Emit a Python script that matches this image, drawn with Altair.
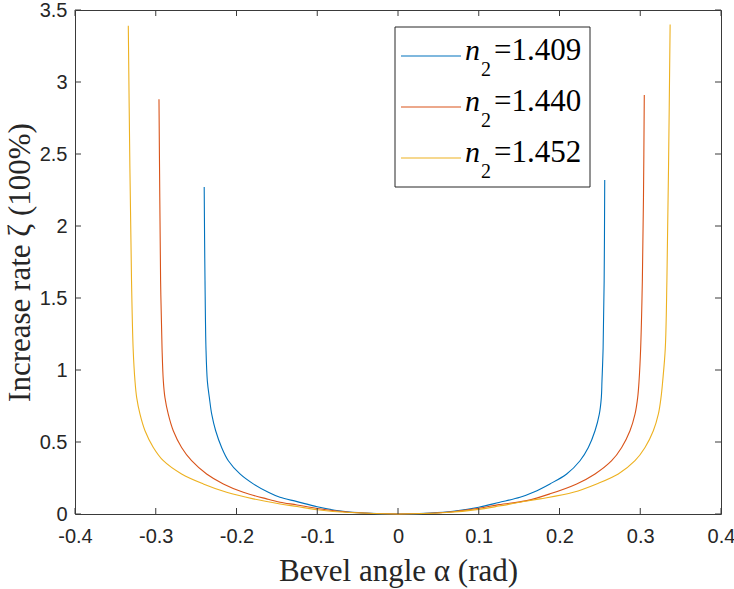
import altair as alt
import pandas as pd

# Refractive index of each curve, its legend text and colour
n2_values = ["1.409", "1.440", "1.452"]
series_colors = ["#0072BD", "#D95319", "#EDB120"]

# Bevel angle alpha (rad) and increase rate zeta for each n2
alpha_1409 = [-0.2400, -0.2395, -0.2390, -0.2378, -0.2361, -0.2336, -0.2307, -0.2258,
              -0.2184, -0.2101, -0.1957, -0.1792, -0.1606, -0.1462, -0.125, -0.100,
              -0.068, -0.040, 0.000, 0.040, 0.068, 0.100, 0.125, 0.1511, 0.1676,
              0.1882, 0.2089, 0.2254, 0.2357, 0.2440, 0.2493, 0.2518, 0.2526, 0.2540,
              0.2553, 0.2560]
zeta_1409 = [2.27, 1.90, 1.62, 1.15, 0.923, 0.808, 0.693, 0.578,
             0.462, 0.370, 0.278, 0.209, 0.151, 0.116, 0.086, 0.050,
             0.018, 0.006, 0.0, 0.006, 0.018, 0.047, 0.080, 0.116, 0.151,
             0.209, 0.278, 0.370, 0.462, 0.578, 0.693, 0.808, 0.923, 1.15,
             1.62, 2.32]

alpha_1440 = [-0.2960, -0.2950, -0.2940, -0.2922, -0.2906, -0.2886, -0.2845, -0.2783,
              -0.2680, -0.2556, -0.2370, -0.2163, -0.1916, -0.1627, -0.1460, -0.125,
              -0.100, -0.060, 0.000, 0.060, 0.100, 0.125, 0.1594, 0.1882, 0.2213,
              0.2440, 0.2646, 0.2770, 0.2873, 0.2935, 0.2968, 0.2985, 0.3005, 0.3026,
              0.3040, 0.3050]
zeta_1440 = [2.88, 2.20, 1.62, 1.15, 0.923, 0.808, 0.693, 0.578,
             0.462, 0.370, 0.278, 0.209, 0.151, 0.105, 0.082, 0.063,
             0.038, 0.012, 0.0, 0.012, 0.040, 0.065, 0.093, 0.140, 0.209,
             0.278, 0.370, 0.462, 0.578, 0.693, 0.808, 0.923, 1.15, 1.62,
             2.20, 2.91]

alpha_1452 = [-0.3340, -0.3320, -0.3300, -0.3280, -0.3257, -0.3236, -0.3195, -0.3133,
              -0.3030, -0.2906, -0.2680, -0.2411, -0.2122, -0.1792, -0.1460, -0.125,
              -0.100, -0.060, 0.000, 0.060, 0.100, 0.125, 0.1511, 0.1759, 0.2171,
              0.2460, 0.2728, 0.2935, 0.3059, 0.3162, 0.3224, 0.3257, 0.3278, 0.3310,
              0.3330, 0.3350, 0.3370]
zeta_1452 = [3.39, 2.40, 1.62, 1.15, 0.923, 0.808, 0.693, 0.578,
             0.462, 0.370, 0.278, 0.209, 0.151, 0.105, 0.070, 0.052,
             0.030, 0.010, 0.0, 0.010, 0.032, 0.055, 0.082, 0.105, 0.151,
             0.209, 0.278, 0.370, 0.462, 0.578, 0.693, 0.808, 0.923, 1.15,
             1.62, 2.40, 3.40]

x_ticks = [-0.4, -0.3, -0.2, -0.1, 0.0, 0.1, 0.2, 0.3, 0.4]
y_ticks = [0.0, 0.5, 1.0, 1.5, 2.0, 2.5, 3.0, 3.5]

W, H = 646, 504
TOP = 10
AXIS_COLOR = "#262626"
FRAME_COLOR = "#3a3a3a"
SERIF = "Liberation Serif"

frames = []
for n2, xs, ys in zip(n2_values,
                      [alpha_1409, alpha_1440, alpha_1452],
                      [zeta_1409, zeta_1440, zeta_1452]):
    frames.append(pd.DataFrame({"alpha": xs, "zeta": ys, "n2": n2}))
curves = pd.concat(frames, ignore_index=True)

x_scale = alt.Scale(domain=[-0.4, 0.4], nice=False, zero=False)
y_scale = alt.Scale(domain=[0, 3.5], nice=False)

axis_common = dict(
    labelExpr="'' + round(datum.value * 10) / 10",
    ticks=False, tickSize=0, domain=False, grid=False,
    labelFont="Liberation Sans", labelFontSize=20, labelColor=AXIS_COLOR,
    labelOverlap=False, labelFlush=False,
    titleFont=SERIF, titleFontSize=31, titleFontWeight="normal",
    titleColor=AXIS_COLOR,
)
x_axis = alt.Axis(values=x_ticks, title="Bevel angle α (rad)",
                  labelPadding=12, titlePadding=10, **axis_common)
y_axis = alt.Axis(values=y_ticks, title="Increase rate ζ (100%)",
                  labelPadding=8, titlePadding=3, **axis_common)

lines = alt.Chart(curves).mark_line(strokeWidth=1.1, interpolate="catmull-rom").encode(
    x=alt.X("alpha:Q", scale=x_scale, axis=x_axis),
    y=alt.Y("zeta:Q", scale=y_scale, axis=y_axis),
    color=alt.Color("n2:N", scale=alt.Scale(domain=n2_values, range=series_colors),
                    legend=None),
    detail="n2:N",
)

# Inward tick marks on all four sides of the box
xt = pd.DataFrame({"t": x_ticks})
yt = pd.DataFrame({"t": y_ticks})
TL = 6
tick_layers = [
    alt.Chart(xt).mark_rule(color=FRAME_COLOR, strokeWidth=1).encode(
        x=alt.X("t:Q", scale=x_scale, axis=x_axis), y=alt.value(H), y2=alt.value(H - TL)),
    alt.Chart(xt).mark_rule(color=FRAME_COLOR, strokeWidth=1).encode(
        x=alt.X("t:Q", scale=x_scale, axis=x_axis), y=alt.value(0), y2=alt.value(TL)),
    alt.Chart(yt).mark_rule(color=FRAME_COLOR, strokeWidth=1).encode(
        y=alt.Y("t:Q", scale=y_scale, axis=y_axis), x=alt.value(0), x2=alt.value(TL)),
    alt.Chart(yt).mark_rule(color=FRAME_COLOR, strokeWidth=1).encode(
        y=alt.Y("t:Q", scale=y_scale, axis=y_axis), x=alt.value(W), x2=alt.value(W - TL)),
]

# Legend box with line samples and n_2 labels (pixel offsets inside the plot)
one = pd.DataFrame({"k": [0]})
dy = 8 - TOP
legend_layers = [
    alt.Chart(one).mark_rect(fill="white", stroke=AXIS_COLOR, strokeWidth=1).encode(
        x=alt.value(320), x2=alt.value(515), y=alt.value(19 + dy), y2=alt.value(179 + dy)),
]
row_y = [48 + dy, 99 + dy, 150 + dy]
for n2, col, cy in zip(n2_values, series_colors, row_y):
    legend_layers.append(
        alt.Chart(one).mark_rule(color=col, strokeWidth=1.1).encode(
            x=alt.value(326), x2=alt.value(386), y=alt.value(cy)))
    legend_layers.append(
        alt.Chart(one).mark_text(text="n", font=SERIF, fontStyle="italic",
                                 fontSize=30, align="left", baseline="alphabetic",
                                 color="black").encode(
            x=alt.value(390), y=alt.value(cy + 4)))
    legend_layers.append(
        alt.Chart(one).mark_text(text="2", font=SERIF, fontSize=20,
                                 align="left", baseline="alphabetic",
                                 color="black").encode(
            x=alt.value(406), y=alt.value(cy + 20)))
    legend_layers.append(
        alt.Chart(one).mark_text(text="=" + n2, font=SERIF, fontSize=31,
                                 align="left", baseline="alphabetic",
                                 color="black").encode(
            x=alt.value(419), y=alt.value(cy + 4)))

chart = alt.layer(lines, *tick_layers, *legend_layers).properties(
    width=W, height=H,
    autosize=alt.AutoSizeParams(type="none"),
    padding={"left": 75, "top": TOP, "right": 13, "bottom": 75},
    background="white",
).configure_view(stroke=FRAME_COLOR, strokeWidth=1)

chart.save("out.html", embed_options={"renderer": "svg", "actions": False})
